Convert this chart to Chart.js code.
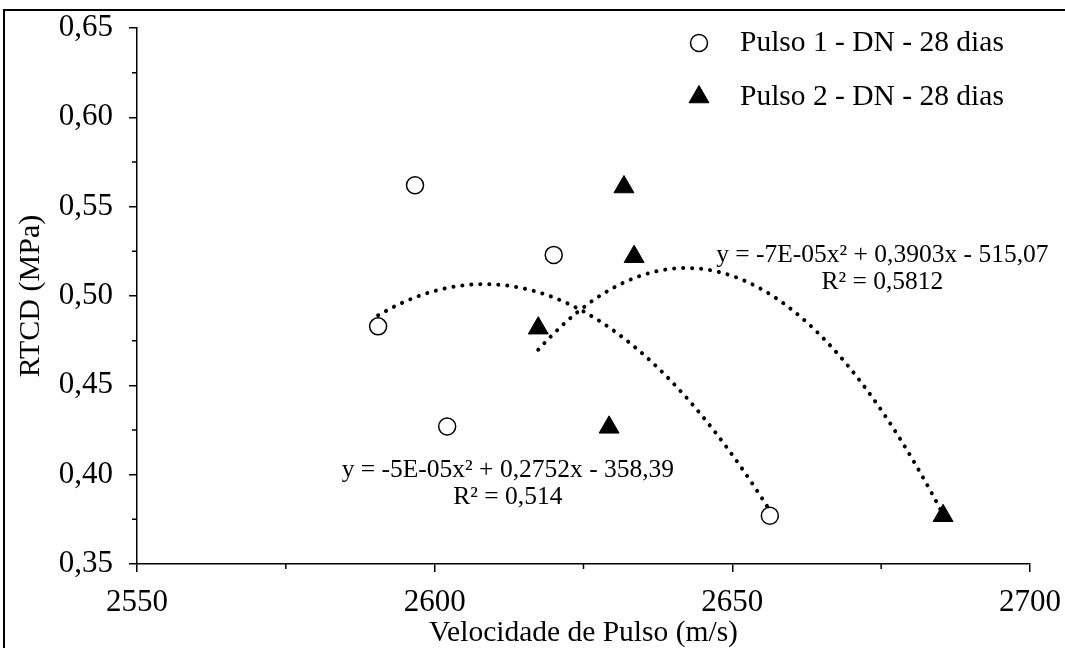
<!DOCTYPE html>
<html>
<head>
<meta charset="utf-8">
<script src="https://cdn.jsdelivr.net/npm/chart.js@4.4.1/dist/chart.umd.min.js"></script>
<style>
  html, body { margin: 0; padding: 0; background: #fff; }
  #wrap { width: 1065px; height: 648px; position: relative; }
</style>
</head>
<body>
<div id="wrap"><canvas id="chart" width="1065" height="648"></canvas></div>
<script>
// values
const pulso1X = [2590.5, 2596.7, 2602.1, 2620.0, 2656.3];
const pulso1Y = [0.483, 0.562, 0.427, 0.523, 0.377];
const pulso2X = [2617.4, 2629.3, 2631.8, 2633.5, 2685.4];
const pulso2Y = [0.482, 0.4265, 0.561, 0.522, 0.377];
const seriesNames = ['Pulso 1 - DN - 28 dias', 'Pulso 2 - DN - 28 dias'];
const xTicks = [2550, 2600, 2650, 2700];
const xMinor = [2575, 2625, 2675];
const yTicks = [0.35, 0.40, 0.45, 0.50, 0.55, 0.60, 0.65];
const yMinor = [0.375, 0.425, 0.475, 0.525, 0.575, 0.625];
const eqPulso1 = ['y = -5E-05x² + 0,2752x - 358,39', 'R² = 0,514'];
const eqPulso2 = ['y = -7E-05x² + 0,3903x - 515,07', 'R² = 0,5812'];

const FONT = '"Liberation Serif", "Times New Roman", serif';

// 2nd order least squares trendline, like the spreadsheet one
function polyFit2(xs, ys) {
  const mx = xs.reduce((a, b) => a + b, 0) / xs.length;
  const S = [0, 0, 0, 0, 0], T = [0, 0, 0];
  xs.forEach((x, i) => {
    const d = x - mx;
    let p = 1;
    for (let k = 0; k < 5; k++) {
      S[k] += p;
      if (k < 3) T[k] += p * ys[i];
      p *= d;
    }
  });
  const A = [[S[0], S[1], S[2], T[0]], [S[1], S[2], S[3], T[1]], [S[2], S[3], S[4], T[2]]];
  for (let c = 0; c < 3; c++) {
    for (let r = c + 1; r < 3; r++) {
      const f = A[r][c] / A[c][c];
      for (let k = c; k < 4; k++) A[r][k] -= f * A[c][k];
    }
  }
  const coef = [0, 0, 0];
  for (let r = 2; r >= 0; r--) {
    let s = A[r][3];
    for (let k = r + 1; k < 3; k++) s -= A[r][k] * coef[k];
    coef[r] = s / A[r][r];
  }
  return x => coef[0] + coef[1] * (x - mx) + coef[2] * (x - mx) * (x - mx);
}

function trendPoints(xs, ys) {
  const f = polyFit2(xs, ys);
  const lo = Math.min(...xs), hi = Math.max(...xs);
  const pts = [];
  const n = 80;
  for (let i = 0; i <= n; i++) {
    const x = lo + (hi - lo) * i / n;
    pts.push({ x: x, y: f(x) });
  }
  return pts;
}

const toPoints = (xs, ys) => xs.map((x, i) => ({ x: x, y: ys[i] }));

const trendStyle = {
  showLine: true,
  pointRadius: 0,
  borderColor: '#000',
  borderWidth: 4,
  borderDash: [0.1, 8.9],
  borderCapStyle: 'round',
  fill: false,
  isTrend: true
};

// frame around the figure
const framePlugin = {
  id: 'frame',
  beforeDraw(chart) {
    const ctx = chart.ctx;
    ctx.save();
    ctx.fillStyle = '#fff';
    ctx.fillRect(0, 0, chart.width, chart.height);
    ctx.strokeStyle = '#000';
    ctx.lineWidth = 2;
    ctx.beginPath();
    ctx.moveTo(4, chart.height);
    ctx.lineTo(4, 10);
    ctx.lineTo(chart.width, 10);
    ctx.stroke();
    ctx.restore();
  }
};

// short minor ticks
const minorTicks = {
  id: 'minorTicks',
  afterDraw(chart) {
    const ctx = chart.ctx, a = chart.chartArea;
    const sx = chart.scales.x, sy = chart.scales.y;
    ctx.save();
    ctx.strokeStyle = '#000';
    ctx.lineWidth = 1.5;
    ctx.beginPath();
    xMinor.forEach(v => {
      const p = sx.getPixelForValue(v);
      ctx.moveTo(p, a.bottom);
      ctx.lineTo(p, a.bottom + 5);
    });
    yMinor.forEach(v => {
      const p = sy.getPixelForValue(v);
      ctx.moveTo(a.left - 5, p);
      ctx.lineTo(a.left, p);
    });
    ctx.stroke();
    ctx.restore();
  }
};

// legend in the top right corner of the plot
const legendBox = {
  id: 'legendBox',
  afterDraw(chart) {
    const ctx = chart.ctx;
    const rows = chart.data.datasets.filter(d => !d.isTrend);
    ctx.save();
    rows.forEach((ds, i) => {
      const y = 43 + i * 54;
      ctx.fillStyle = ds.backgroundColor;
      ctx.strokeStyle = ds.borderColor;
      ctx.lineWidth = ds.borderWidth;
      Chart.helpers.drawPoint(ctx, {
        pointStyle: ds.pointStyle,
        radius: ds.pointRadius,
        borderWidth: ds.borderWidth,
        rotation: 0
      }, 699, y);
      ctx.fillStyle = '#000';
      ctx.font = '29.5px ' + FONT;
      ctx.textAlign = 'left';
      ctx.textBaseline = 'middle';
      ctx.fillText(ds.label, 740, y);
    });
    ctx.restore();
  }
};

// trendline equations
const equations = [
  { lines: eqPulso1, x: 2612.3, y: 0.4026 },
  { lines: eqPulso2, x: 2675.2, y: 0.5230 }
];
const equationLabels = {
  id: 'equationLabels',
  afterDraw(chart) {
    const ctx = chart.ctx;
    const sx = chart.scales.x, sy = chart.scales.y;
    ctx.save();
    ctx.fillStyle = '#000';
    ctx.font = '25.5px ' + FONT;
    ctx.textAlign = 'center';
    ctx.textBaseline = 'middle';
    equations.forEach(eq => {
      const px = sx.getPixelForValue(eq.x);
      const py = sy.getPixelForValue(eq.y);
      eq.lines.forEach((t, i) => ctx.fillText(t, px, py + i * 27));
    });
    ctx.restore();
  }
};

new Chart(document.getElementById('chart'), {
  type: 'scatter',
  data: {
    datasets: [
      {
        label: seriesNames[0],
        data: toPoints(pulso1X, pulso1Y),
        pointStyle: 'circle',
        pointRadius: 8.5,
        pointHoverRadius: 8.5,
        backgroundColor: '#fff',
        borderColor: '#000',
        borderWidth: 1.5
      },
      {
        label: seriesNames[1],
        data: toPoints(pulso2X, pulso2Y),
        pointStyle: 'triangle',
        pointRadius: 11.5,
        pointHoverRadius: 11.5,
        backgroundColor: '#000',
        borderColor: '#000',
        borderWidth: 1
      },
      Object.assign({ label: 'trend1', data: trendPoints(pulso1X, pulso1Y) }, trendStyle),
      Object.assign({ label: 'trend2', data: trendPoints(pulso2X, pulso2Y) }, trendStyle)
    ]
  },
  options: {
    responsive: false,
    animation: false,
    events: [],
    layout: { padding: { top: 28, right: 35, left: 0, bottom: 0 } },
    plugins: {
      legend: { display: false },
      tooltip: { enabled: false }
    },
    scales: {
      x: {
        type: 'linear',
        min: 2550,
        max: 2700,
        afterBuildTicks: s => { s.ticks = xTicks.map(v => ({ value: v })); },
        afterFit: s => { s.height = 84; s.paddingLeft = 0; s.paddingRight = 0; },
        border: { color: '#000', width: 1.5 },
        grid: { drawOnChartArea: false, color: '#000', lineWidth: 1.5, tickLength: 8 },
        ticks: {
          color: '#000',
          font: { family: FONT, size: 31 },
          padding: 12,
          maxRotation: 0,
          callback: v => String(v)
        },
        title: {
          display: true,
          text: 'Velocidade de Pulso (m/s)',
          color: '#000',
          font: { family: FONT, size: 29.5 },
          padding: { top: 0, bottom: -3 }
        }
      },
      y: {
        type: 'linear',
        min: 0.35,
        max: 0.65,
        afterBuildTicks: s => { s.ticks = yTicks.map(v => ({ value: v })); },
        afterFit: s => { s.width = 137; s.paddingTop = 0; s.paddingBottom = 0; },
        border: { color: '#000', width: 1.5 },
        grid: { drawOnChartArea: false, color: '#000', lineWidth: 1.5, tickLength: 8 },
        ticks: {
          color: '#000',
          font: { family: FONT, size: 31 },
          padding: 16,
          callback: v => v.toFixed(2).replace('.', ',')
        },
        title: {
          display: true,
          text: 'RTCD (MPa)',
          color: '#000',
          font: { family: FONT, size: 30 },
          padding: { top: 13, bottom: 0 }
        }
      }
    }
  },
  plugins: [framePlugin, minorTicks, legendBox, equationLabels]
});
</script>
</body>
</html>
